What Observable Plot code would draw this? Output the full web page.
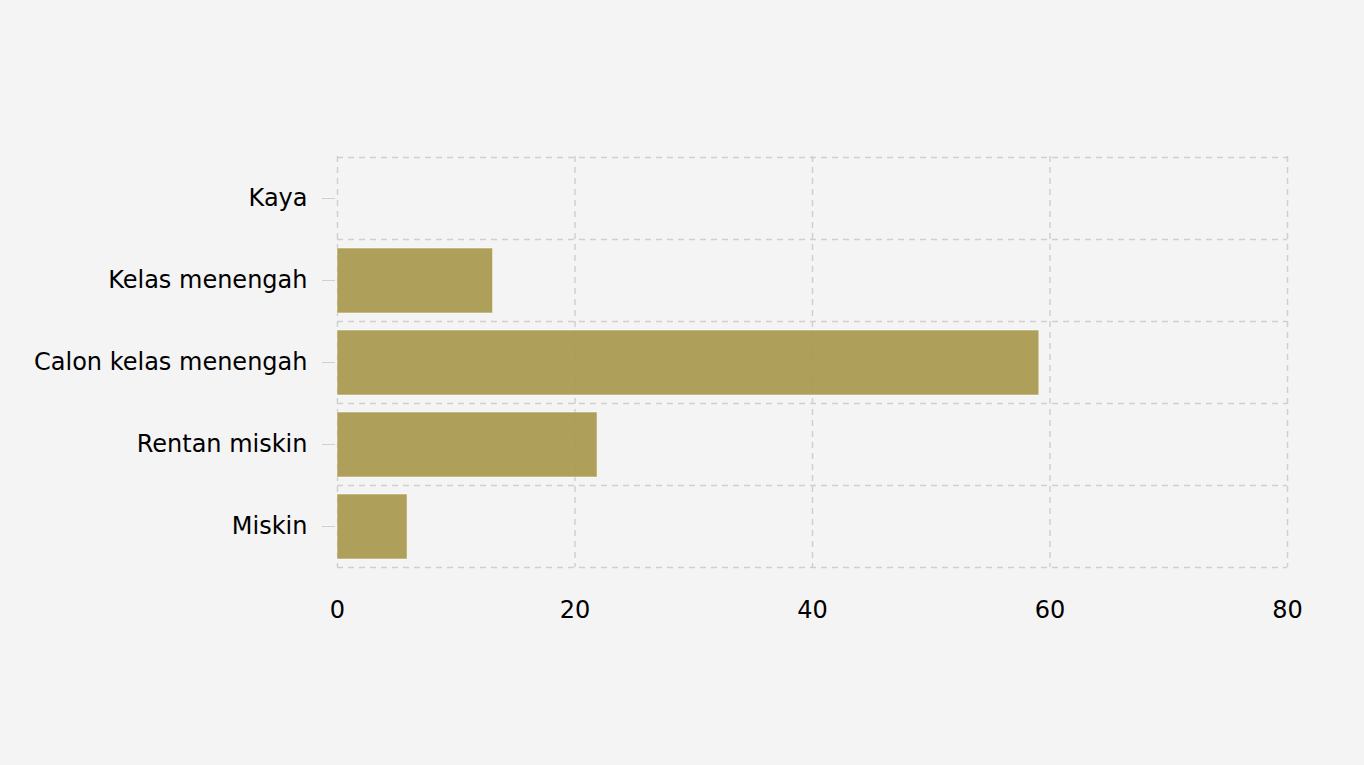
<!DOCTYPE html>
<html>
<head>
<meta charset="utf-8">
<script src="https://cdn.jsdelivr.net/npm/d3@7"></script>
<script src="https://cdn.jsdelivr.net/npm/@observablehq/plot@0.6"></script>
<style>
  html, body { margin: 0; padding: 0; background: #f4f4f4; }
  #chart svg { display: block; }
</style>
</head>
<body>
<div id="chart"></div>
<script>
const categories = ["Kaya", "Kelas menengah", "Calon kelas menengah", "Rentan miskin", "Miskin"];
const values = [0, 13.1, 59.1, 21.9, 5.9];
const xTicks = [0, 20, 40, 60, 80];

const data = categories.map((c, i) => ({category: c, value: values[i]}));

const W = 1364, H = 765, mT = 156, mB = 198;
const step = (H - mT - mB) / categories.length;
const gridStyle = {stroke: "#cfcfcf", strokeWidth: 1.5, strokeDasharray: "6,5"};

const chart = Plot.plot({
  width: W,
  height: H,
  marginLeft: 337,
  marginRight: 77,
  marginTop: mT,
  marginBottom: mB,
  style: {background: "#f4f4f4", fontFamily: "DejaVu Sans, sans-serif", fontSize: "24px", color: "#000"},
  x: {domain: [0, 80], ticks: xTicks, label: null},
  y: {domain: categories, padding: 0, label: null},
  marks: [
    Plot.ruleY(categories, {y: d => d, x1: 0, x2: 80, dy: -step / 2, ...gridStyle}),
    Plot.ruleY(categories.slice(-1), {y: d => d, x1: 0, x2: 80, dy: step / 2, ...gridStyle}),
    Plot.ruleX(xTicks, gridStyle),
    Plot.barX(data, {y: "category", x: "value", fill: "#a6974a", fillOpacity: 0.9, stroke: "#ffffff", strokeOpacity: 0.5, strokeWidth: 1, insetTop: 9, insetBottom: 8}),
    Plot.axisX({ticks: xTicks, tickSize: 0, tickPadding: 33, label: null, fontSize: 24}),
    Plot.axisY({tickSize: 13, tickPadding: 15, stroke: "#cfcfcf", label: null, fontSize: 24, dx: -2})
  ]
});
document.getElementById("chart").appendChild(chart);
</script>
</body>
</html>
